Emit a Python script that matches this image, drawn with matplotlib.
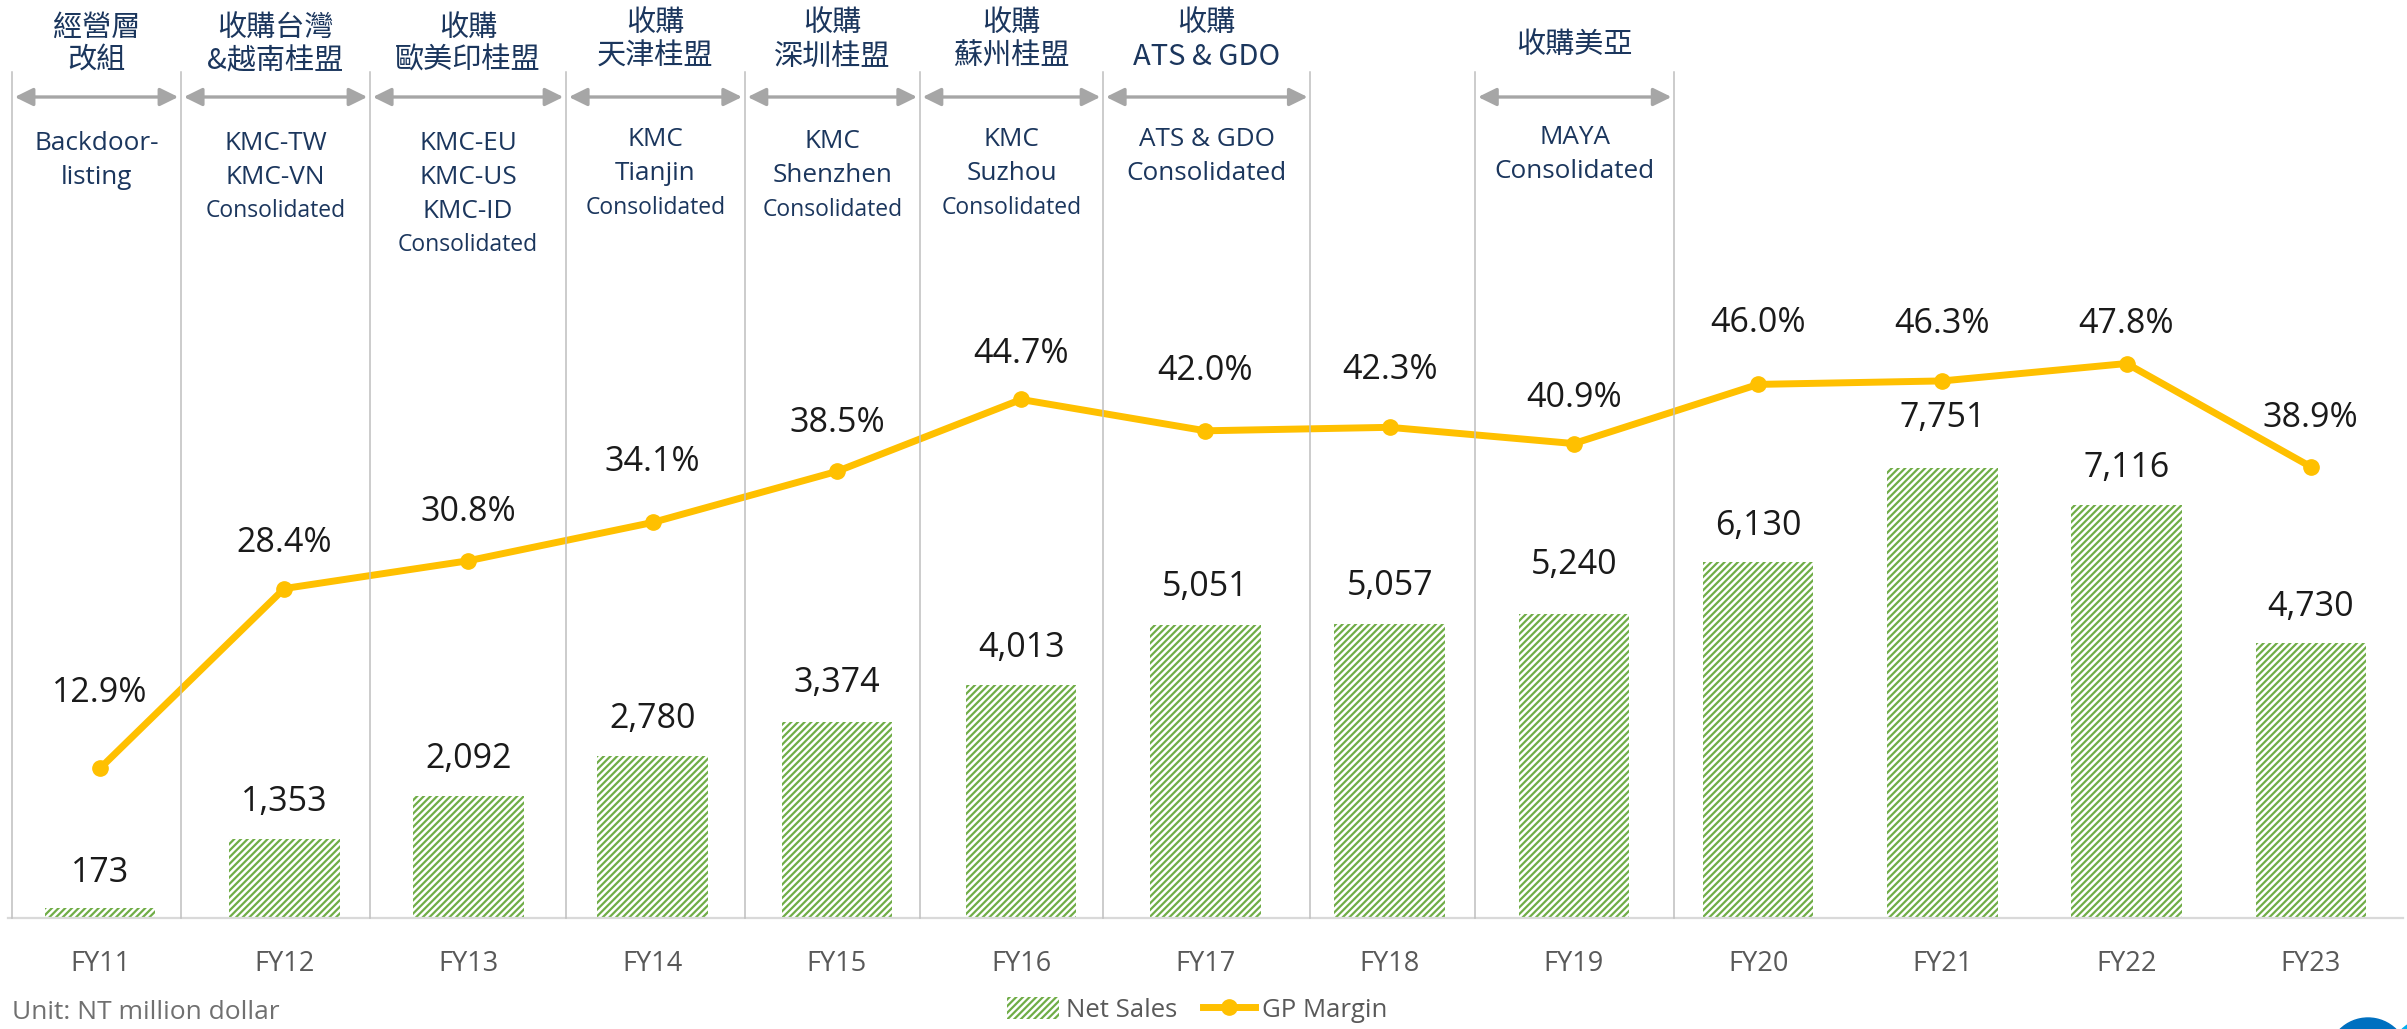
import matplotlib
matplotlib.use("Agg")
import matplotlib.pyplot as plt
from matplotlib import transforms
from matplotlib.lines import Line2D
from matplotlib.patches import Patch, Ellipse

years = ["FY11", "FY12", "FY13", "FY14", "FY15", "FY16", "FY17",
         "FY18", "FY19", "FY20", "FY21", "FY22", "FY23"]
net_sales = [173, 1353, 2092, 2780, 3374, 4013, 5051, 5057, 5240, 6130, 7751, 7116, 4730]
gp_margin = [12.9, 28.4, 30.8, 34.1, 38.5, 44.7, 42.0, 42.3, 40.9, 46.0, 46.3, 47.8, 38.9]

event_titles = [["經營層", "改組"], ["收購台灣", "&越南桂盟"], ["收購", "歐美印桂盟"],
                ["收購", "天津桂盟"], ["收購", "深圳桂盟"], ["收購", "蘇州桂盟"],
                ["收購", "ATS & GDO"], ["收購美亞"]]
event_notes = [["Backdoor-", "listing"], ["KMC-TW", "KMC-VN", "Consolidated"],
               ["KMC-EU", "KMC-US", "KMC-ID", "Consolidated"],
               ["KMC", "Tianjin", "Consolidated"], ["KMC", "Shenzhen", "Consolidated"],
               ["KMC", "Suzhou", "Consolidated"], ["ATS & GDO", "Consolidated"],
               ["MAYA", "Consolidated"]]

# layout (pixels of the 2407x1029 canvas)
W, H = 2407, 1029
event_spans = [(-0.478, 0.44), (0.44, 1.466), (1.466, 2.53), (2.53, 3.50),
               (3.50, 4.45), (4.45, 5.445), (5.445, 6.57), (7.465, 8.545)]
title_rows = [(28, 61), (28, 61), (28, 61), (23, 57), (23, 57), (23, 57), (23, 57), (45,)]
note_top = [143, 143, 143, 140, 142, 140, 140, 138]
small_last = [False, True, True, True, True, True, False, False]
bar_label_off = [35, 37, 37, 37, 39, 37, 38, 38, 49, 36, 50, 37, 36]
gp_label_off = [75, 46, 49, 60, 48, 45, 60, 57, 46, 61, 57, 40, 49]

GREEN = "#70AD47"
GOLD = "#FFC000"
NAVY = "#1B365D"
GREY = "#595959"
EN = "Open Sans"
CJK = ["Noto Sans CJK TC", "DejaVu Sans"]

plt.rcParams["hatch.color"] = GREEN
plt.rcParams["hatch.linewidth"] = 1.6
plt.rcParams["font.family"] = [EN, "DejaVu Sans"]


def fy(px):
    return 1 - px / H


fig = plt.figure(figsize=(W / 100, H / 100), dpi=100)
ax = fig.add_axes([7.9 / W, (H - 918) / H, 2395 / W, 918 / H])
x = list(range(len(years)))

ax.bar(x, net_sales, width=0.6, color="white", edgecolor=GREEN, hatch="/////", lw=0, zorder=2)
ax.set_xlim(-0.5, len(years) - 0.5)
ax.set_ylim(0, 918 / 0.0581)
for i, v in enumerate(net_sales):
    ax.annotate(f"{v:,}", (i, v), xytext=(0, bar_label_off[i] / 1.389),
                textcoords="offset points", ha="center", va="center",
                fontsize=24.5, color="#1a1a1a", zorder=5)

ax.set_xticks(x)
ax.set_xticklabels(years, fontsize=19.5, color=GREY)
ax.tick_params(axis="x", length=0, pad=23)
ax.set_yticks([])
for s in ["top", "left", "right"]:
    ax.spines[s].set_visible(False)
ax.spines["bottom"].set_color("#D9D9D9")
ax.spines["bottom"].set_linewidth(1.6)

ax2 = ax.twinx()
ax2.plot(x, gp_margin, color=GOLD, lw=5, marker="o", ms=11, zorder=4)
ax2.set_ylim(0, 918 / 11.6)
ax2.axis("off")
for i, v in enumerate(gp_margin):
    ax2.annotate(f"{v:.1f}%", (i, v), xytext=(0, gp_label_off[i] / 1.389),
                 textcoords="offset points", ha="center", va="center",
                 fontsize=24.5, color="#1a1a1a")

# event header: separators, arrows and captions
trans = transforms.blended_transform_factory(ax.transData, fig.transFigure)
edges = sorted({e for span in event_spans for e in span})
for e in edges:
    fig.add_artist(Line2D([e, e], [fy(918), fy(72)], transform=trans,
                          color="#BFBFBF", lw=1.1, zorder=1))

for k, (x0, x1) in enumerate(event_spans):
    cx = (x0 + x1) / 2
    ax.annotate("", xy=(x1, fy(97)), xytext=(x0, fy(97)), xycoords=trans, textcoords=trans,
                arrowprops=dict(arrowstyle="<|-|>,head_length=0.55,head_width=0.27",
                                color="#A6A6A6", lw=2.4, mutation_scale=20,
                                shrinkA=2, shrinkB=2), annotation_clip=False)
    for line, yy in zip(event_titles[k], title_rows[k]):
        fig.text(cx, fy(yy), line, transform=trans, ha="center", va="center",
                 fontsize=21, color=NAVY, family=CJK)
    notes = event_notes[k]
    for j, line in enumerate(notes):
        small = small_last[k] and j == len(notes) - 1
        fig.text(cx, fy(note_top[k] + 34 * j), line, transform=trans, ha="center",
                 va="center", fontsize=16.5 if small else 18.8, color=NAVY)

# legend
handles = [Patch(facecolor="white", edgecolor=GREEN, hatch="/////", lw=0),
           Line2D([], [], color=GOLD, lw=5, marker="o", ms=11)]
fig.legend(handles, ["Net Sales", "GP Margin"], loc="center",
           bbox_to_anchor=(0.4975, fy(1010)), ncol=2, frameon=False, fontsize=18.5,
           labelcolor=GREY, handlelength=2.0, handleheight=0.9,
           handletextpad=0.3, columnspacing=1.0)

fig.text(12 / W, fy(1000), "Unit: NT million dollar", ha="left", va="top",
         fontsize=19, color="#707070")

# partial logo in the corner
fig.add_artist(Ellipse((2368 / W, fy(1058)), 80 / W, 80 / H, color="#0070C0"))
fig.add_artist(Ellipse((2430 / W, fy(1058)), 80 / W, 80 / H, color="#00B0F0"))

fig.savefig("out.png", dpi=100)
